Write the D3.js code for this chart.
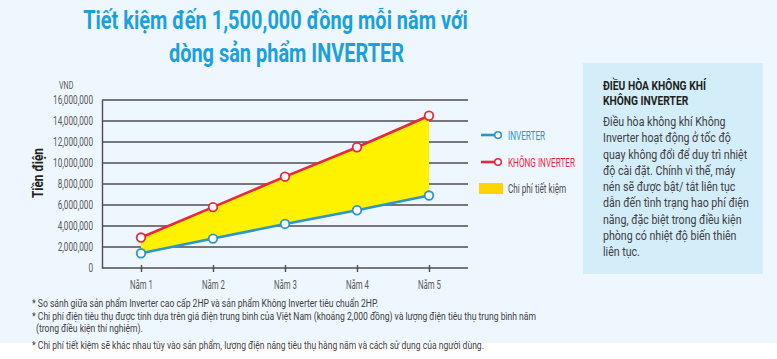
<!DOCTYPE html>
<html><head><meta charset="utf-8">
<script src="https://cdn.jsdelivr.net/npm/d3@7"></script>
<style>
html,body{margin:0;padding:0;background:#fff;}
svg{display:block;}
</style></head>
<body>
<svg id="c" width="777" height="359"></svg>
<script>
const categories = ["Năm 1","Năm 2","Năm 3","Năm 4","Năm 5"];
const inverter = [1400000, 2800000, 4200000, 5500000, 6900000];
const nonInverter = [2900000, 5800000, 8700000, 11500000, 14500000];
const yTicks = [0,2000000,4000000,6000000,8000000,10000000,12000000,14000000,16000000];
const titleLines = ["Tiết kiệm đến 1,500,000 đồng mỗi năm với","dòng sản phẩm INVERTER"];
const legendLabels = ["INVERTER","KHÔNG INVERTER","Chi phí tiết kiệm"];
const boxTitle = ["ĐIỀU HÒA KHÔNG KHÍ","KHÔNG INVERTER"];
const boxBody = ["Điều hòa không khí Không","Inverter hoạt động ở tốc độ","quay không đổi để duy trì nhiệt","độ cài đặt. Chính vì thế, máy","nén sẽ được bật/ tắt liên tục","dẫn đến tình trạng hao phí điện","năng, đặc biệt trong điều kiện","phòng có nhiệt độ biến thiên","liên tục."];
const footnotes = ["* So sánh giữa sản phẩm Inverter cao cấp 2HP và sản phẩm Không Inverter tiêu chuẩn 2HP.","* Chi phí điện tiêu thụ được tính dựa trên giá điện trung bình của Việt Nam (khoảng 2,000 đồng) và lượng điện tiêu thụ trung bình năm","(trong điều kiện thí nghiệm).","* Chi phí tiết kiệm sẽ khác nhau tùy vào sản phẩm, lượng điện năng tiêu thụ hàng năm và cách sử dụng của người dùng."];

const FONT = "Roboto, 'Liberation Sans', sans-serif";
const svg = d3.select("#c");

function fit(sample, size, weight, target){
  const t = svg.append("text").attr("font-family",FONT).attr("font-size",size).attr("font-weight",weight).text(sample);
  const w = t.node().getComputedTextLength(); t.remove();
  return target / w;
}
function ctext(parent, x, y, str, o){
  const gg = parent.append("g").attr("transform",`translate(${x},${y}) scale(${o.sx},1)`);
  return gg.append("text").attr("font-family",FONT).attr("font-size",o.size).attr("font-weight",o.weight||"normal")
    .attr("fill",o.fill).attr("text-anchor",o.anchor||"start").text(str);
}

svg.append("rect").attr("width",777).attr("height",343).attr("fill","#eef7fd");

// title
const sTitle = fit(titleLines[0],25,"bold",385);
titleLines.forEach((t,i)=>ctext(svg, i===0?275.5:286.5, 29+i*33, t, {sx:sTitle,size:25,weight:"bold",fill:"#1d9fdb",anchor:"middle"}));

// chart
const x = d3.scalePoint().domain(categories).range([141,429]);
const y = d3.scaleLinear().domain([0,16000000]).range([268,100]);
const L = 102, R = 468;
const g = svg.append("g");
g.selectAll("line.grid").data(yTicks.slice(1)).join("line")
  .attr("x1",L).attr("x2",R).attr("y1",d=>y(d)).attr("y2",d=>y(d))
  .attr("stroke","#4d4d4f").attr("stroke-width",1.4);
const fmt = d3.format(",");
const sY = fit("16,000,000",12,"normal",40);
const yAxis = d3.axisLeft(y).tickValues(yTicks).tickSize(0).tickPadding(9).tickFormat(d=>fmt(d));
const ya = g.append("g").attr("transform",`translate(${L},0)`).call(yAxis);
ya.select(".domain").attr("stroke","#4d4d4f").attr("stroke-width",1.4);
ya.selectAll("text").attr("font-family",FONT).attr("font-size",12).attr("fill","#58595b")
  .attr("x",-9/sY).attr("transform",`scale(${sY},1)`);
const sX = fit("Năm 1",12,"normal",23);
const xAxis = d3.axisBottom(x).tickSize(4).tickPadding(8);
const xa = g.append("g").attr("transform",`translate(0,${y(0)})`).call(xAxis);
xa.select(".domain").remove();
g.append("line").attr("x1",L).attr("x2",R).attr("y1",y(0)).attr("y2",y(0)).attr("stroke","#4d4d4f").attr("stroke-width",1.4);
xa.selectAll(".tick line").attr("stroke","#4d4d4f").attr("stroke-width",1.4).attr("y1",-3);
xa.selectAll("text").attr("font-family",FONT).attr("font-size",12).attr("fill","#58595b").attr("transform",`scale(${sX},1)`);

ctext(svg, 59, 89, "VND", {sx:sY,size:10.5,fill:"#58595b"});
const sAx = fit("Tiền điện",15,"bold",50);
svg.append("g").attr("transform","translate(43,173) rotate(-90)")
  .append("g").attr("transform",`scale(${sAx},1)`)
  .append("text").attr("text-anchor","middle").attr("font-family",FONT).attr("font-weight","bold")
  .attr("font-size",15).attr("fill","#231f20").text("Tiền điện");

const idx = d3.range(categories.length);
const area = d3.area().x(i=>x(categories[i])).y0(i=>y(inverter[i])).y1(i=>y(nonInverter[i]));
g.append("path").datum(idx).attr("d",area).attr("fill","#fff200");
const line = vals => d3.line().x(i=>x(categories[i])).y(i=>y(vals[i]));
const series = [{v:inverter,c:"#2a95cf"},{v:nonInverter,c:"#e8273e"}];
series.forEach(s=>{
  g.append("path").datum(idx).attr("d",line(s.v)).attr("fill","none").attr("stroke",s.c).attr("stroke-width",2.6);
  g.selectAll(null).data(idx).join("circle").attr("cx",i=>x(categories[i])).attr("cy",i=>y(s.v[i]))
    .attr("r",4.3).attr("fill","#fff").attr("stroke",s.c).attr("stroke-width",1.8);
});

// legend
const sL = fit(legendLabels[1],12.5,"normal",67);
const lg = svg.append("g");
[{c:"#2a95cf",y:135,t:legendLabels[0]},{c:"#e8273e",y:162,t:legendLabels[1]}].forEach(o=>{
  lg.append("line").attr("x1",481).attr("x2",495).attr("y1",o.y).attr("y2",o.y).attr("stroke",o.c).attr("stroke-width",2.6);
  lg.append("circle").attr("cx",498).attr("cy",o.y).attr("r",3.3).attr("fill","#fff").attr("stroke",o.c).attr("stroke-width",1.6);
  ctext(lg, 508, o.y+4.5, o.t, {sx:sL,size:12.5,fill:o.c});
});
lg.append("rect").attr("x",479).attr("y",183).attr("width",24).attr("height",11).attr("fill","#ffd400");
ctext(lg, 508, 193, legendLabels[2], {sx:sL,size:12.5,fill:"#4d4d4f"});

// info box
svg.append("rect").attr("x",583).attr("y",63).attr("width",180).attr("height",211).attr("fill","#d3edf9");
const sBT = fit(boxTitle[0],13.5,"bold",103);
boxTitle.forEach((t,i)=>ctext(svg,603,90+i*14.5,t,{sx:sBT,size:13.5,weight:"bold",fill:"#231f20"}));
const sBB = fit(boxBody[5],13.5,"normal",146);
boxBody.forEach((t,i)=>ctext(svg,603,126+i*16.25,t,{sx:sBB,size:13.5,fill:"#414042"}));

// footnotes
const sF = fit(footnotes[1],10,"normal",505);
footnotes.forEach((t,i)=>ctext(svg, i===2?36:32, [307,320,332,349][i], t, {sx:sF,size:10,fill:"#414042"}));
</script>
</body></html>
